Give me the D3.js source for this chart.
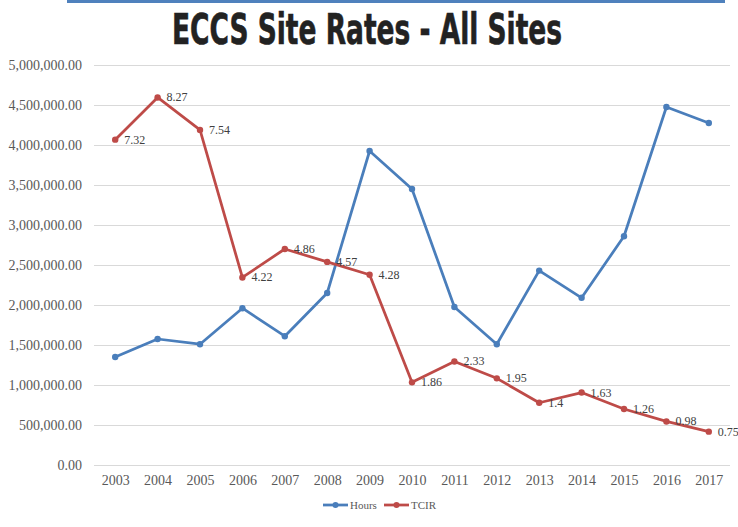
<!DOCTYPE html>
<html>
<head>
<meta charset="utf-8">
<script src="https://cdn.jsdelivr.net/npm/d3@7"></script>
<style>
  body { margin: 0; background: #fff; }
</style>
</head>
<body>
<script>
// data
var years = ["2003","2004","2005","2006","2007","2008","2009","2010","2011","2012","2013","2014","2015","2016","2017"];
var hours = [1350000, 1575000, 1510000, 1960000, 1610000, 2150000, 3925000, 3450000, 1975000, 1510000, 2430000, 2090000, 2860000, 4475000, 4275000];
var tcir = [7.32, 8.27, 7.54, 4.22, 4.86, 4.57, 4.28, 1.86, 2.33, 1.95, 1.4, 1.63, 1.26, 0.98, 0.75];
var yTicks = [0, 500000, 1000000, 1500000, 2000000, 2500000, 3000000, 3500000, 4000000, 4500000, 5000000];

var W = 738, H = 527;
var margin = {top: 65, right: 8, bottom: 62, left: 94};
var width = W - margin.left - margin.right,
    height = H - margin.top - margin.bottom;

var svg = d3.select("body").append("svg")
  .attr("width", W).attr("height", H);

// blue strip on top
svg.append("rect").attr("x", 67).attr("y", 0).attr("width", 658).attr("height", 3).attr("fill", "#4f81bd");

// title
svg.append("text")
  .attr("x", 367).attr("y", 44)
  .attr("text-anchor", "middle")
  .attr("textLength", 390).attr("lengthAdjust", "spacingAndGlyphs")
  .style("font-family", "'Liberation Sans Narrow', 'DejaVu Sans Condensed', sans-serif")
  .style("font-weight", "bold")
  .style("font-size", "42px")
  .attr("fill", "#222").attr("stroke", "#222").attr("stroke-width", 0.6)
  .text("ECCS Site Rates - All Sites");

var g = svg.append("g").attr("transform", "translate(" + margin.left + "," + margin.top + ")");

var x = d3.scalePoint().domain(years).range([0, width]).padding(0.5);
var y = d3.scaleLinear().domain([0, 5000000]).range([height, 0]);
// hidden secondary axis for TCIR
var y2 = d3.scaleLinear().domain([0, 9]).range([height, 0]);

// gridlines + y labels
var yAxis = g.append("g")
  .call(d3.axisLeft(y).tickValues(yTicks).tickSize(-width)
    .tickFormat(function(d) { return d3.format(",.2f")(d); }).tickPadding(12));
yAxis.select(".domain").remove();
yAxis.selectAll("line").attr("stroke", "#d9d9d9");
yAxis.selectAll("text")
  .style("font-family", "'Liberation Serif', serif").style("font-size", "14px").attr("fill", "#595959");

// x labels
var xAxis = g.append("g").attr("transform", "translate(0," + height + ")")
  .call(d3.axisBottom(x).tickSize(0).tickPadding(10));
xAxis.select(".domain").remove();
xAxis.selectAll("text")
  .style("font-family", "'Liberation Serif', serif").style("font-size", "14px").attr("fill", "#595959");

var blue = "#4a7ebb", red = "#be4b48";

function drawSeries(vals, scale, color) {
  var line = d3.line()
    .x(function(d, i) { return x(years[i]); })
    .y(function(d) { return scale(d); });
  g.append("path").datum(vals)
    .attr("fill", "none").attr("stroke", color).attr("stroke-width", 2.75)
    .attr("stroke-linejoin", "round").attr("d", line);
  g.selectAll(null).data(vals).enter().append("circle")
    .attr("cx", function(d, i) { return x(years[i]); })
    .attr("cy", function(d) { return scale(d); })
    .attr("r", 3.2).attr("fill", color);
}

drawSeries(hours, y, blue);
drawSeries(tcir, y2, red);

// TCIR value labels
g.selectAll(null).data(tcir).enter().append("text")
  .attr("x", function(d, i) { return x(years[i]) + 9; })
  .attr("y", function(d) { return y2(d) + 4; })
  .style("font-family", "'Liberation Serif', serif").style("font-size", "12px")
  .attr("fill", "#404040")
  .text(function(d) { return d; });

// legend
var legend = svg.append("g").attr("transform", "translate(0,505)");
var items = [{name: "Hours", color: blue, x: 323}, {name: "TCIR", color: red, x: 384}];
items.forEach(function(it) {
  legend.append("line").attr("x1", it.x).attr("x2", it.x + 25).attr("y1", 0).attr("y2", 0)
    .attr("stroke", it.color).attr("stroke-width", 2.75);
  legend.append("circle").attr("cx", it.x + 12.5).attr("cy", 0).attr("r", 3).attr("fill", it.color);
  legend.append("text").attr("x", it.x + 27).attr("y", 4)
    .style("font-family", "'Liberation Serif', serif").style("font-size", "11px")
    .attr("fill", "#595959").text(it.name);
});
</script>
</body>
</html>
